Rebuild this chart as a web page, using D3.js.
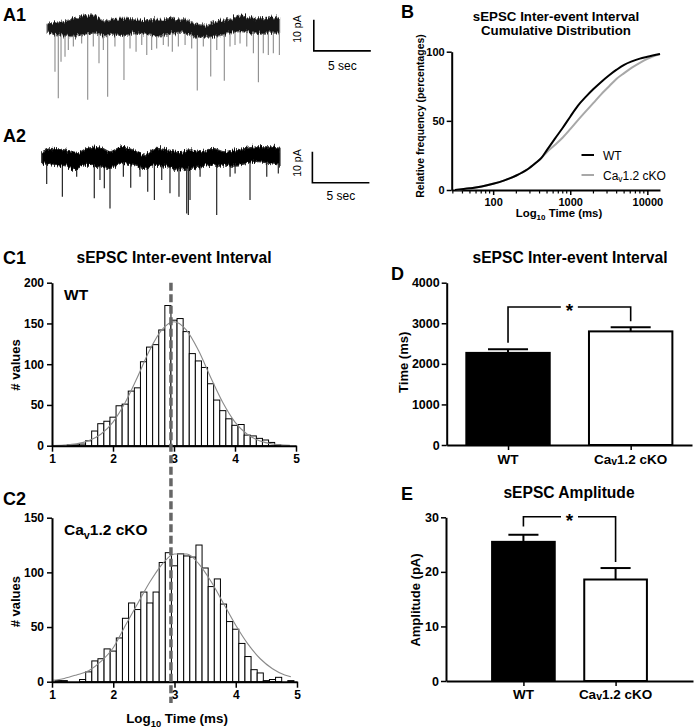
<!DOCTYPE html>
<html><head><meta charset="utf-8">
<script src="https://cdn.jsdelivr.net/npm/d3@7"></script>
<style>
html,body{margin:0;padding:0;background:#fff;}
svg{display:block;}
</style></head><body>
<svg id="fig" width="695" height="728">
  <defs>
    <filter id="jitter" x="-2%" y="-40%" width="104%" height="180%">
      <feTurbulence type="fractalNoise" baseFrequency="0.9 0.08" numOctaves="2" seed="3" result="n"/>
      <feComponentTransfer in="n" result="ny">
        <feFuncR type="linear" slope="0" intercept="0.5"/>
      </feComponentTransfer>
      <feDisplacementMap in="SourceGraphic" in2="ny" scale="9" xChannelSelector="R" yChannelSelector="G"/>
    </filter>
  </defs>
</svg>
<script>
const FONT = '"Liberation Sans", Arial, Helvetica, sans-serif';

// ---------- Panel A1 (trace, WT) ----------
const a1EnvTime   = [0,1,2,3,4,5,6,7,8,9,10,11,12,13,14,15,16,17,18,19,20,20.4];
const a1EnvTop    = [1.2,1.7,2.3,3.3,3.9,2.0,2.8,2.8,2.5,2.3,2.5,2.8,2.3,1.0,0.6,2.0,2.5,3.9,2.8,2.7,3.3,3.0];
const a1EnvBottom = [-2.0,-2.6,-3.1,-2.6,-2.0,-2.9,-2.6,-2.6,-2.0,-2.6,-2.9,-2.2,-2.0,-3.3,-3.3,-2.9,-2.0,-1.5,-2.0,-2.0,-2.0,-1.8];
const a1EventTime = [0.70,0.99,1.23,1.58,1.87,2.31,3.04,3.57,4.06,4.56,4.94,5.32,5.96,6.75,7.28,7.81,8.31,8.75,9.18,9.62,10.2,10.64,10.99,11.52,12.11,12.69,13.18,13.71,14.36,14.89,15.55,16.05,16.49,16.93,17.52,18.1,18.54,18.97,19.41,19.85,20.38];
const a1EventAmp  = [-14.4,-23,-11.2,-9.6,-7.4,-6.3,-5.3,-23.5,-6.3,-11.7,-7.4,-22.5,-6.3,-17.1,-6.9,-8,-5.8,-9,-7.4,-6.9,-5.8,-6.3,-8,-6.3,-5.8,-6.9,-20.5,-6.3,-16,-7.4,-17.3,-6.3,-5.8,-5.3,-6.3,-8.5,-17.8,-8.5,-9,-8.5,-9];

// ---------- Panel A2 (trace, cKO) ----------
const a2EnvTime   = [0,1,2,3,4,5,6,7,8,9,10,11,12,13,14,15,16,17,18,19,20,20.9];
const a2EnvTop    = [1.6,2.7,2.2,1.1,2.7,3.2,1.6,3.2,2.2,0.5,2.7,2.2,1.6,2.2,1.6,2.7,1.6,2.2,2.7,3.2,3.2,2.7];
const a2EnvBottom = [-2.2,-2.7,-3.2,-3.8,-2.7,-3.2,-3.8,-2.2,-2.7,-3.8,-2.7,-3.2,-4.3,-3.8,-3.2,-2.7,-2.7,-2.7,-2.2,-1.6,-2.2,-2.7];
const a2EventTime = [0.44,1.81,3.07,4.61,5.11,5.49,5.99,7.16,7.81,8.62,9.3,9.88,10.53,11.25,12.04,12.72,12.86,13.01,13.89,15.35,16.52,16.96,18.27,19.74,20.75];
const a2EventAmp  = [-8.8,-12.9,-6.5,-13.4,-7.5,-10.2,-16.7,-6.5,-10,-6.5,-11.3,-14,-7.5,-11.8,-12.9,-18.3,-18.8,-14,-6.5,-18.8,-6.5,-5.4,-14,-6.5,-5.4];

// ---------- Panel B (cumulative distribution) ----------
const cdfTimeMs = [32,50,71,100,140,200,280,355,420,500,630,800,1000,1260,1600,2000,2500,3200,4000,5000,6300,8000,10000,14600];
const cdfWT     = [0,1.2,2.5,4.5,7,10.5,15,19.5,23,29,37,45,53,61,67.5,73,78,83,87,90.5,93,95,96.3,98.3];
const cdfKO     = [0,1.2,2.5,4.5,7,10.5,15,19.5,23,27.5,32.5,38,44,50.5,57,63,69,75,80.5,84.5,88.5,92,94.8,98.3];
const cdfYTicks = [0,50,100];
const cdfXTicks = [100,1000,10000];

// ---------- Panels C1/C2 (histograms, log10 ms) ----------
const binCenters = [1.0,1.1,1.2,1.3,1.4,1.5,1.6,1.7,1.8,1.9,2.0,2.1,2.2,2.3,2.4,2.5,2.6,2.7,2.8,2.9,3.0,3.1,3.2,3.3,3.4,3.5,3.6,3.7,3.8,3.9,4.0,4.1,4.2,4.3,4.4,4.5,4.6,4.7,4.8,4.9];
const histWT = [0,0,0,1,1,2,6,18,27,30,35,49,51,67,71,103,121,124,142,172,154,156,140,113,104,96,76,56,43,33,25,26,13,12,9,7,4,1,0,0];
const histKO = [0,1,1,0,0,2,9,19,21,30,28,40,58,72,66,82,72,82,109,118,106,117,115,114,125,104,87,94,71,55,48,35,23,11,8,1,2,4,0,1];
const fitX   = [1.0,1.2,1.4,1.6,1.8,2.0,2.2,2.4,2.6,2.8,3.0,3.2,3.4,3.6,3.8,4.0,4.2,4.4,4.6,4.8,4.9];
const fitWT  = [0.2,0.7,2.2,6,14,29,53,84,117,142,152,142,117,84,53,29,14,6,2.2,0.7,0.4];
const fitKO  = [1.3,3.0,6.2,10,18.5,31,51.6,71.6,91.4,107.6,116.8,116.8,107.6,91.4,71.6,51.6,34.3,21,11.9,6.2,4.5];
const medianLogWT = 2.95;
const histXTicks = [1,2,3,4,5];
const histWTYTicks = [0,50,100,150,200];
const histKOYTicks = [0,50,100,150];

// ---------- Panels D/E (bar charts) ----------
const groups  = ['WT','Cav1.2 cKO'];
const ieiMean = [2270, 2800];
const ieiSem  = [90, 105];
const ieiTicks = [0,1000,2000,3000,4000];
const ampMean = [25.5, 18.6];
const ampSem  = [1.3, 2.1];
const ampTicks = [0,10,20,30];
const ieiBracket = {top: 3400, legs: [2520, 3050]};
const ampBracket = {top: 30.1, legs: [28.3, 21.8]};

// ================= drawing =================
const svg = d3.select('#fig');
const intFmt = d3.format('d');

function parts(name){
  if (name.startsWith('Cav')) return [{t:'Ca'},{t:'v',sub:true},{t:name.slice(3)}];
  return [{t:name}];
}
function addText(x, y, content, o){
  const size = o.size;
  const t = svg.append('text').attr('x',x).attr('y',y)
    .attr('font-family',FONT).attr('font-size',size)
    .attr('font-weight',o.weight||'bold')
    .attr('text-anchor',o.anchor||'start').attr('fill',o.fill||'#000');
  if (o.rotate) t.attr('transform',`rotate(-90,${x},${y})`);
  const ps = typeof content === 'string' ? [{t:content}] : content;
  let prevSub = false;
  const sd = o.subDy != null ? o.subDy : size*0.3;
  ps.forEach(p=>{
    const ts = t.append('tspan').text(p.t);
    if (p.sub){ ts.attr('font-size', size*(o.subScale||0.7)).attr('dy', sd); prevSub = true; }
    else if (prevSub){ ts.attr('dy', -sd); prevSub = false; }
  });
  if (o.rotate) t.attr('dy','0.35em');
  return t;
}
function styleAxis(g, size){
  g.attr('font-family',FONT).attr('font-size',size).attr('font-weight','bold');
  g.select('.domain').attr('stroke','#000').attr('stroke-width',2);
  g.selectAll('.tick line').attr('stroke','#000').attr('stroke-width',1.5);
  g.selectAll('.tick text').attr('fill','#000');
}

// ---- Panel labels
[['A1',3,21],['A2',3,142],['B',401,18],['C1',3,264],['C2',3,505],['D',391,280],['E',401,500]]
  .forEach(([s,x,y])=>addText(x,y,s,{size:18}));

// ---- Panel A traces
function drawTrace(envT, envTop, envBot, evT, evA, xS, yS, spikeColor, bandFill, bandStroke){
  const g = svg.append('g');
  g.selectAll('line').data(evT).join('line')
    .attr('x1',d=>xS(d)).attr('x2',d=>xS(d))
    .attr('y1',yS(0)).attr('y2',(d,i)=>yS(evA[i]))
    .attr('stroke',spikeColor).attr('stroke-width',1.1);
  const area = d3.area()
    .x((d,i)=>xS(envT[i])).y0((d,i)=>yS(envBot[i])).y1((d,i)=>yS(envTop[i]))
    .curve(d3.curveMonotoneX);
  g.append('path').datum(envT).attr('d',area)
    .attr('fill',bandFill).attr('stroke',bandStroke).attr('stroke-width',1.2)
    .attr('filter','url(#jitter)');
}
const xA1 = d3.scaleLinear().domain([0,20.4]).range([47,279.6]);
const yA1 = d3.scaleLinear().domain([-10,0]).range([58,27]);
drawTrace(a1EnvTime,a1EnvTop,a1EnvBottom,a1EventTime,a1EventAmp,xA1,yA1,'#8c8c8c','#151515','#777');
const xA2 = d3.scaleLinear().domain([0,20.9]).range([41.7,280]);
const yA2 = d3.scaleLinear().domain([-10,0]).range([187.7,156.7]);
drawTrace(a2EnvTime,a2EnvTop,a2EnvBottom,a2EventTime,a2EventAmp,xA2,yA2,'#111','#050505','#333');

function scaleBar(xS, yS, t0, i0, lblX, lblPAy, secY){
  svg.append('path')
    .attr('d',`M${xS(t0)},${yS(i0+10)}V${yS(i0)}H${xS(t0+5)}`)
    .attr('fill','none').attr('stroke','#000').attr('stroke-width',1.6);
  addText(lblX, lblPAy, '10 pA', {size:10.5, weight:'normal', anchor:'middle', rotate:true});
  addText((xS(t0)+xS(t0+5))/2, secY, '5 sec', {size:12, weight:'normal', anchor:'middle'});
}
scaleBar(xA1, yA1, 23.4, -7.7, 297.5, 29, 70);
scaleBar(xA2, yA2, 23.74, -8.4, 297.5, 163, 200);

// ---- Panel B
const xB = d3.scaleLog().domain([29,14600]).range([451.7,660]);
const yB = d3.scaleLinear().domain([0,100]).range([190,51.7]);
{
  const gy = svg.append('g').attr('transform','translate(451.7,0)')
    .call(d3.axisLeft(yB).tickValues(cdfYTicks).tickFormat(intFmt).tickSize(5).tickSizeOuter(0).tickPadding(2));
  styleAxis(gy, 11);
  const gx = svg.append('g').attr('transform','translate(0,190)')
    .call(d3.axisBottom(xB).tickValues(cdfXTicks).tickFormat(intFmt).tickSize(5).tickSizeOuter(0).tickPadding(3));
  styleAxis(gx, 11);
  const minor = xB.ticks().filter(v=>!cdfXTicks.includes(v) && v>=xB.domain()[0]);
  svg.append('g').selectAll('line').data(minor).join('line')
    .attr('x1',d=>xB(d)).attr('x2',d=>xB(d)).attr('y1',190).attr('y2',193.5)
    .attr('stroke','#000').attr('stroke-width',1.2);
  const line = d3.line().x((d,i)=>xB(cdfTimeMs[i])).y(d=>yB(d)).curve(d3.curveMonotoneX);
  svg.append('path').datum(cdfKO).attr('d',line).attr('fill','none').attr('stroke','#a8a8a8').attr('stroke-width',2);
  svg.append('path').datum(cdfWT).attr('d',line).attr('fill','none').attr('stroke','#000').attr('stroke-width',2);
  // legend
  svg.append('line').attr('x1',581.5).attr('x2',594).attr('y1',155).attr('y2',155).attr('stroke','#000').attr('stroke-width',2);
  addText(603,159.5,'WT',{size:12,weight:'normal'});
  svg.append('line').attr('x1',581.5).attr('x2',594).attr('y1',175).attr('y2',175).attr('stroke','#a8a8a8').attr('stroke-width',2);
  addText(603,179.5,parts('Cav1.2 cKO'),{size:12,weight:'normal',subDy:2.5});
  addText(556,20.7,'sEPSC Inter-event Interval',{size:13.3,anchor:'middle'});
  addText(556,34.5,'Cumulative Distribution',{size:13.3,anchor:'middle'});
  addText(420,116,'Relative frequency (percentages)',{size:10.4,anchor:'middle',rotate:true});
  addText(559,217,[{t:'Log'},{t:'10',sub:true},{t:' Time (ms)'}],{size:11.4,anchor:'middle',subDy:3});
}

// ---- Panels C1 / C2
function histogram(counts, fit, xS, yS, yTicks, x0){
  const g = svg.append('g');
  const w = b => xS(b+0.05)-xS(b-0.05);
  g.selectAll('rect').data(binCenters.filter((b,i)=>counts[i]>0)).join('rect')
    .attr('x',b=>xS(b-0.05)).attr('width',b=>w(b))
    .attr('y',b=>yS(counts[binCenters.indexOf(b)]))
    .attr('height',b=>yS(0)-yS(counts[binCenters.indexOf(b)]))
    .attr('fill','#fff').attr('stroke','#000').attr('stroke-width',1);
  const line = d3.line().x((d,i)=>xS(fitX[i])).y(d=>yS(d)).curve(d3.curveMonotoneX);
  g.append('path').datum(fit).attr('d',line).attr('fill','none').attr('stroke','#8a8a8a').attr('stroke-width',1.1);
  const gy = svg.append('g').attr('transform',`translate(${x0},0)`)
    .call(d3.axisLeft(yS).tickValues(yTicks).tickFormat(intFmt).tickSize(5).tickSizeOuter(0).tickPadding(3));
  styleAxis(gy, 12);
  const gx = svg.append('g').attr('transform',`translate(0,${yS(0)})`)
    .call(d3.axisBottom(xS).tickValues(histXTicks).tickFormat(intFmt).tickSize(6).tickSizeOuter(0).tickPadding(3));
  styleAxis(gx, 12);
}
const xC1 = d3.scaleLinear().domain([1,5]).range([52,296]);
const yC1 = d3.scaleLinear().domain([0,200]).range([445.7,282.7]);
histogram(histWT, fitWT, xC1, yC1, histWTYTicks, 52);
const xC2 = d3.scaleLinear().domain([1,5]).range([52,297]);
const yC2 = d3.scaleLinear().domain([0,150]).range([681.7,517.7]);
histogram(histKO, fitKO, xC2, yC2, histKOYTicks, 52);

svg.append('line').attr('x1',xC1(medianLogWT)).attr('x2',xC1(medianLogWT))
  .attr('y1',yC1(200)).attr('y2',703)
  .attr('stroke','#666').attr('stroke-width',3.5).attr('stroke-dasharray','8,3.5');

addText(174,263.3,'sEPSC Inter-event Interval',{size:15.6,anchor:'middle'});
addText(64,300,'WT',{size:15.5});
addText(64,535,parts('Cav1.2 cKO'),{size:15.5,subDy:3.5});
addText(15,365,'# values',{size:13,anchor:'middle',rotate:true});
addText(15,601.7,'# values',{size:13,anchor:'middle',rotate:true});
addText(177,723,[{t:'Log'},{t:'10',sub:true},{t:' Time (ms)'}],{size:13.4,anchor:'middle',subDy:3.5});

// ---- Panels D / E
function barChart(means, sems, xS, yS, ticks, axisX0, bracket, labelY){
  const bw = xS.step()*0.68;
  const y0 = yS(0);
  const g = svg.append('g');
  groups.forEach((grp,i)=>{
    const cx = xS(grp);
    g.append('line').attr('x1',cx).attr('x2',cx).attr('y1',yS(means[i])).attr('y2',yS(means[i]+sems[i]))
      .attr('stroke','#000').attr('stroke-width',2);
    g.append('line').attr('x1',cx-bw*0.24).attr('x2',cx+bw*0.24)
      .attr('y1',yS(means[i]+sems[i])).attr('y2',yS(means[i]+sems[i]))
      .attr('stroke','#000').attr('stroke-width',2);
    g.append('rect').attr('x',cx-bw/2).attr('width',bw).attr('y',yS(means[i])).attr('height',y0-yS(means[i]))
      .attr('fill',i===0?'#000':'#fff').attr('stroke','#000').attr('stroke-width',2);
  });
  const gy = svg.append('g').attr('transform',`translate(${axisX0},0)`)
    .call(d3.axisLeft(yS).tickValues(ticks).tickFormat(intFmt).tickSize(5).tickSizeOuter(0).tickPadding(2));
  styleAxis(gy, 12.5);
  const gx = svg.append('g').attr('transform',`translate(0,${y0})`)
    .call(d3.axisBottom(xS).tickSize(5).tickSizeOuter(0).tickFormat(''));
  styleAxis(gx, 13);
  groups.forEach(grp=>addText(xS(grp), labelY, parts(grp), {size:13.5, anchor:'middle', subScale:0.78, subDy:1.5}));
  // significance bracket
  const xa = xS(groups[0]), xb = xS(groups[1]), xm = (xa+xb)/2, yt = yS(bracket.top);
  g.append('path').attr('d',`M${xa},${yS(bracket.legs[0])}V${yt}H${xm-8.5}M${xm+8.5},${yt}H${xb}V${yS(bracket.legs[1])}`)
    .attr('fill','none').attr('stroke','#000').attr('stroke-width',1.6);
  addText(xm, yt+10, '*', {size:19, anchor:'middle'});
}
const yD = d3.scaleLinear().domain([0,4000]).range([445,282.7]);
const xD = d3.scalePoint().domain(groups).range([446.7,692]).padding(0.5);
barChart(ieiMean, ieiSem, xD, yD, ieiTicks, 446.7, ieiBracket, 463.5);
addText(570,263.3,'sEPSC Inter-event Interval',{size:15.6,anchor:'middle'});
addText(403.5,362.3,'Time (ms)',{size:13,anchor:'middle',rotate:true});

const yE = d3.scaleLinear().domain([0,30]).range([681,517.3]);
const xE = d3.scalePoint().domain(groups).range([446,693]).padding(0.84);
barChart(ampMean, ampSem, xE, yE, ampTicks, 446, ampBracket, 698.5);
addText(569,498.3,'sEPSC Amplitude',{size:15.6,anchor:'middle'});
addText(415,600,'Amplitude (pA)',{size:13,anchor:'middle',rotate:true});
</script>
</body></html>
